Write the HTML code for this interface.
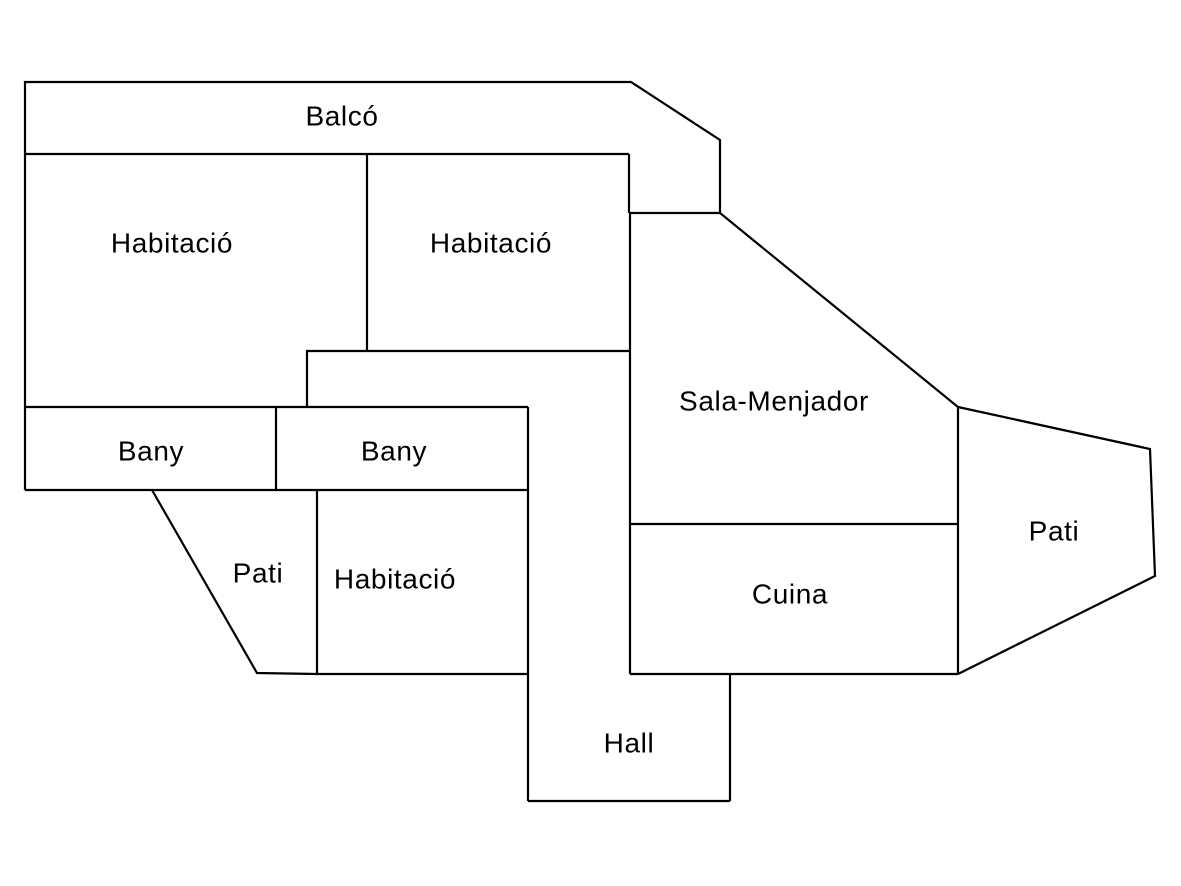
<!DOCTYPE html>
<html><head><meta charset="utf-8"><style>
html,body{margin:0;padding:0;background:#fff;}
svg{display:block;}
text{font-family:"Liberation Sans",sans-serif;font-size:28px;letter-spacing:0.6px;fill:#000;text-anchor:middle;dominant-baseline:central;}
</style></head><body>
<svg width="1181" height="886" viewBox="0 0 1181 886" xmlns="http://www.w3.org/2000/svg">
<rect width="1181" height="886" fill="#fff"/>
<g fill="none" stroke="#000" stroke-width="2.2" stroke-linejoin="miter">
<polyline points="25,490 25,82 631,82 720,140 720,213 958,407 958,674"/>
<line x1="25" y1="154" x2="629" y2="154"/>
<line x1="367" y1="154" x2="367" y2="351"/>
<line x1="629" y1="154" x2="629" y2="213"/>
<line x1="629" y1="213" x2="720" y2="213"/>
<line x1="630" y1="213" x2="630" y2="674"/>
<polyline points="958,407 1150,449 1155,576 958,674"/>
<polyline points="629,351 307,351 307,407"/>
<line x1="25" y1="407" x2="528" y2="407"/>
<line x1="276" y1="407" x2="276" y2="490"/>
<line x1="528" y1="407" x2="528" y2="801"/>
<line x1="25" y1="490" x2="528" y2="490"/>
<line x1="630" y1="524" x2="958" y2="524"/>
<line x1="630" y1="674" x2="958" y2="674"/>
<line x1="730" y1="674" x2="730" y2="801"/>
<line x1="528" y1="801" x2="730" y2="801"/>
<polyline points="152,490 257,673 317,674"/>
<line x1="317" y1="490" x2="317" y2="674"/>
<line x1="317" y1="674" x2="528" y2="674"/>
</g>
<text x="342" y="116">Balcó</text>
<text x="172" y="243">Habitació</text>
<text x="491" y="243">Habitació</text>
<text x="774" y="401">Sala-Menjador</text>
<text x="151" y="451">Bany</text>
<text x="394" y="451">Bany</text>
<text x="258" y="573">Pati</text>
<text x="395" y="579">Habitació</text>
<text x="790" y="594">Cuina</text>
<text x="1054" y="531">Pati</text>
<text x="629" y="743">Hall</text>
</svg>
</body></html>
